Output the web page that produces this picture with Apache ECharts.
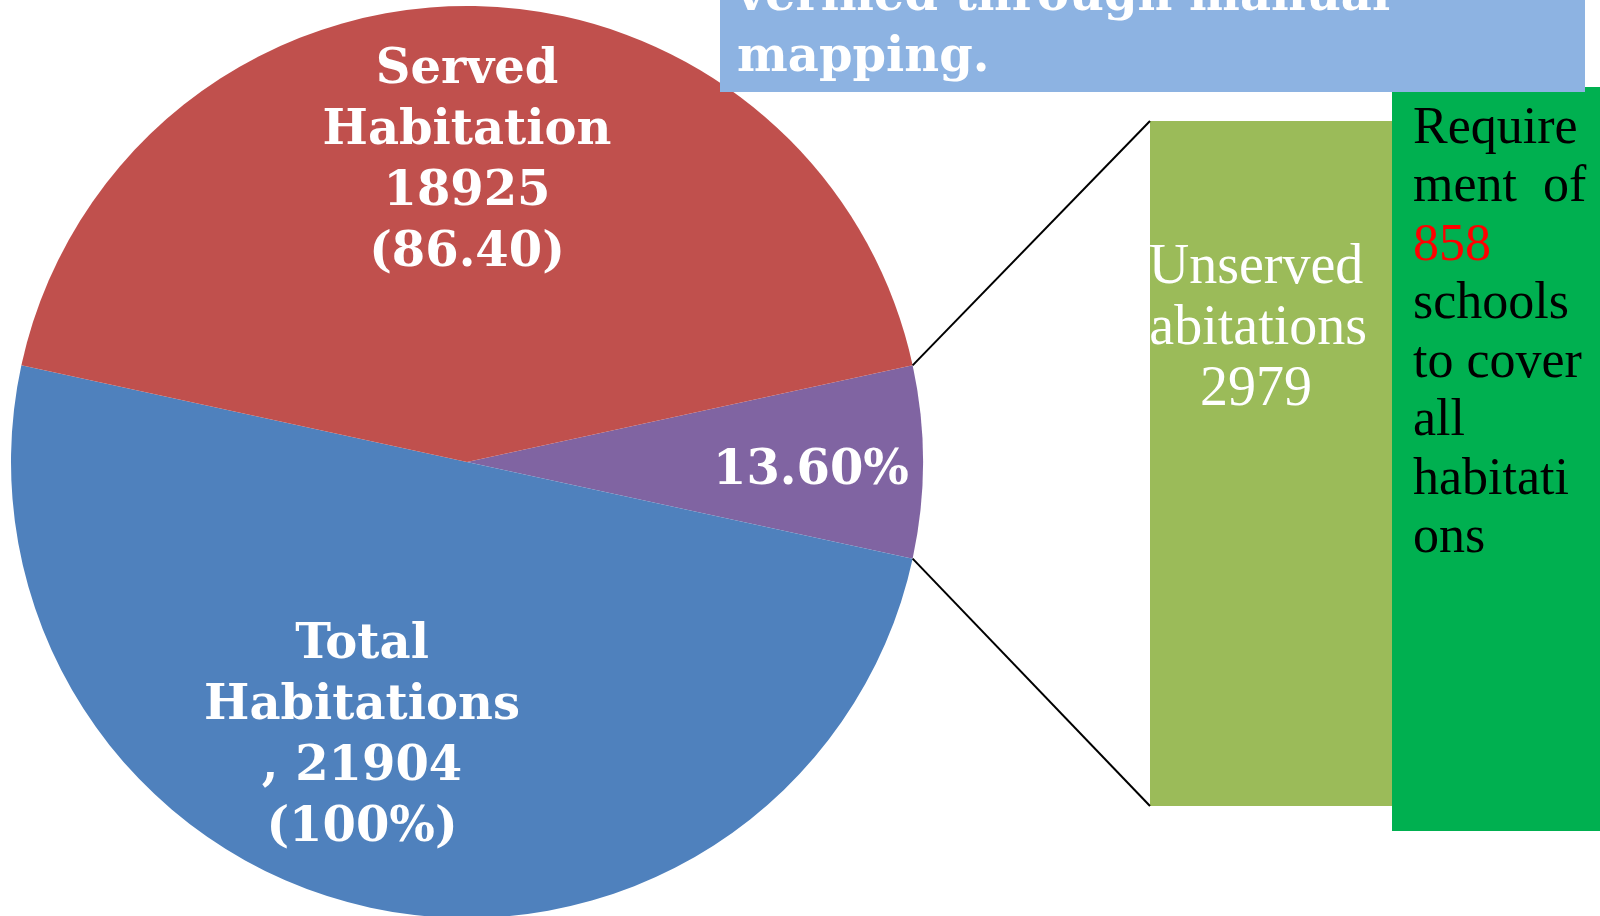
<!DOCTYPE html>
<html>
<head>
<meta charset="utf-8">
<script src="https://cdn.jsdelivr.net/npm/echarts@6/dist/echarts.min.js"></script>
<style>
html,body{margin:0;padding:0;background:#fff;}
#main{width:1600px;height:916px;}
</style>
</head>
<body>
<div id="main"></div>
<script>
// ---- data ----
const sliceNames = ['Unserved', 'Total Habitations', 'Served Habitation'];
const sliceValues = [2979, 21904, 18925];
const sliceLabels = ['13.60%', 'Total\nHabitations\n, 21904\n(100%)', 'Served\nHabitation\n18925\n(86.40)'];
const sliceColors = ['#8064A2', '#4F81BD', '#C0504D'];
const barCategories = ['Unserved habitations'];
const barValues = [2979];
const barLabelLines = ['Unserved', 'Habitations', '2979'];
const noteTopLines = ['verified through manual', 'mapping.'];
const noteRightLines = ['Require', 'ment  of', '858', 'schools', 'to cover', 'all', 'habitati', 'ons'];
const noteRightHighlight = '858';

// ---- layout ----
const cx = 467, cy = 462, R = 456;
const barBox = {left: 1150, top: 121, width: 242, height: 685};
const labelPos = [[811, 472], [362, 737], [467, 162]];

const total = sliceValues.reduce((a, b) => a + b, 0);
const halfAngle = sliceValues[0] / total * 180; // degrees
const rad = halfAngle * Math.PI / 180;
const edgeTop = [cx + R * Math.cos(rad), cy - R * Math.sin(rad)];
const edgeBot = [cx + R * Math.cos(rad), cy + R * Math.sin(rad)];

const chart = echarts.init(document.getElementById('main'), null, {renderer: 'canvas'});

const pieData = sliceValues.map((v, i) => ({
  name: sliceNames[i],
  value: v,
  itemStyle: {color: sliceColors[i]},
  label: {formatter: sliceLabels[i]}
}));

const rightText = noteRightLines.map(l => l === noteRightHighlight ? '{r|' + l + '}' : '{b|' + l + '}').join('\n');
const barText = barLabelLines.map((l, i) => (i === 1 ? '{h|' : '{u|') + l + '}').join('\n');

chart.setOption({
  animation: false,
  grid: {left: barBox.left, top: barBox.top, width: barBox.width, height: barBox.height, containLabel: false},
  xAxis: {type: 'category', data: barCategories, show: false},
  yAxis: {type: 'value', min: 0, max: barValues[0], show: false},
  series: [
    {
      type: 'pie',
      z: 2,
      center: [cx, cy],
      radius: [0, R],
      startAngle: halfAngle,
      clockwise: true,
      avoidLabelOverlap: false,
      itemStyle: {borderWidth: 0},
      emphasis: {disabled: true},
      labelLine: {show: false},
      label: {
        show: true,
        position: 'inside',
        color: '#fff',
        fontFamily: 'DejaVu Serif',
        fontWeight: 'bold',
        fontSize: 48,
        lineHeight: 61,
        align: 'center'
      },
      labelLayout: function (p) {
        const pos = labelPos[p.dataIndex];
        return {x: pos[0], y: pos[1], align: 'center', verticalAlign: 'middle'};
      },
      data: pieData
    },
    {
      type: 'bar',
      z: 2,
      data: barValues,
      barWidth: '100%',
      itemStyle: {color: '#9BBB59'},
      emphasis: {disabled: true},
      label: {
        show: true,
        position: [88, 208],
        align: 'center',
        verticalAlign: 'middle',
        formatter: barText,
        color: '#fff',
        fontFamily: 'Liberation Serif',
        fontSize: 56,
        lineHeight: 61,
        rich: {
          u: {color: '#fff', fontFamily: 'Liberation Serif', fontSize: 56, lineHeight: 61, padding: [0, 0, 0, 36]},
          h: {color: '#fff', fontFamily: 'Liberation Serif', fontSize: 56, lineHeight: 61}
        }
      }
    }
  ],
  graphic: [
    {type: 'rect', z: 8, shape: {x: 1060, y: 180, width: 90, height: 300}, style: {fill: '#fff'}},
    {type: 'line', z: 10, shape: {x1: edgeTop[0], y1: edgeTop[1], x2: barBox.left, y2: barBox.top}, style: {stroke: '#000', lineWidth: 2}},
    {type: 'line', z: 10, shape: {x1: edgeBot[0], y1: edgeBot[1], x2: barBox.left, y2: barBox.top + barBox.height}, style: {stroke: '#000', lineWidth: 2}},
    {type: 'rect', z: 20, shape: {x: 1392, y: 87, width: 208, height: 744}, style: {fill: '#00B050'}},
    {type: 'text', z: 21, x: 1413, y: 100, style: {
      text: rightText,
      fontFamily: 'Liberation Serif',
      fontSize: 52,
      lineHeight: 58.5,
      verticalAlign: 'top',
      align: 'left',
      rich: {
        b: {fill: '#000', fontFamily: 'Liberation Serif', fontSize: 52, lineHeight: 58.5},
        r: {fill: '#FF0000', fontFamily: 'Liberation Serif', fontSize: 52, lineHeight: 58.5}
      }
    }},
    {type: 'rect', z: 30, shape: {x: 720, y: -10, width: 865, height: 102}, style: {fill: '#8DB3E2'}},
    {type: 'text', z: 31, x: 737, y: -33, style: {
      text: noteTopLines.join('\n'),
      fill: '#fff',
      fontFamily: 'DejaVu Serif',
      fontWeight: 'bold',
      fontSize: 48,
      lineHeight: 61,
      verticalAlign: 'top',
      align: 'left'
    }}
  ]
});
</script>
</body>
</html>
